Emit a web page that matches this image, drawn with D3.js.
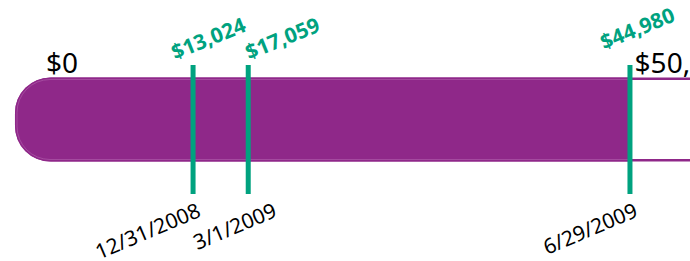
<!DOCTYPE html>
<html><head><meta charset="utf-8">
<script src="https://cdn.jsdelivr.net/npm/d3@7/dist/d3.min.js"></script>
<style>
html,body{margin:0;padding:0;background:#fff;}
svg{display:block;}
</style></head>
<body>
<svg id="chart" width="690" height="261"></svg>
<script>
// ---- data ----
const axisTicks = [0, 50000];
const axisTickLabels = ["$0", "$50,000"];
const currentTotal = 44980;
const milestoneValues = [13024, 17059, 44980];
const milestoneValueLabels = ["$13,024", "$17,059", "$44,980"];
const milestoneDates = ["12/31/2008", "3/1/2009", "6/29/2009"];

// ---- drawing ----
const W = 690, H = 261;
const svg = d3.select("#chart");
const purple = "#8f2889";
const green = "#00a27f";
const font = "'Noto Sans', 'Open Sans', sans-serif";

const barTop = 77.5, barBottom = 161.5, r = 35;
const x = d3.scaleLinear().domain([0, 50000]).range([15, 698.6]);

function leftRounded(x0, x1, y0, y1, rad) {
  return `M${x1},${y0} L${x0 + rad},${y0} A${rad},${rad} 0 0 0 ${x0},${y0 + rad}` +
         ` L${x0},${y1 - rad} A${rad},${rad} 0 0 0 ${x0 + rad},${y1} L${x1},${y1} Z`;
}

// track (unfilled part)
svg.append("path")
  .attr("d", leftRounded(x(0) + 1.2, x(50000) + 20, barTop + 1.2, barBottom - 1.2, r))
  .attr("fill", "#fff").attr("stroke", purple).attr("stroke-width", 2.5);

// filled part
svg.append("path")
  .attr("d", leftRounded(x(0), x(currentTotal), barTop, barBottom, r))
  .attr("fill", purple);
// subtle inner highlight
svg.append("path")
  .attr("d", leftRounded(x(0) + 2, x(currentTotal), barTop + 2, barBottom - 2, r - 2))
  .attr("fill", "none").attr("stroke", "#c98ac6").attr("stroke-width", 0.6).attr("opacity", 0.6);

// axis tick labels
const tickDx = [31, -64];
svg.selectAll("text.tick").data(axisTicks).enter().append("text")
  .attr("class", "tick")
  .attr("x", (d, i) => x(d) + tickDx[i])
  .attr("y", 73)
  .attr("font-family", font).attr("font-size", 28)
  .attr("fill", "#000")
  .text((d, i) => axisTickLabels[i]);

// milestone markers
const ms = milestoneValues.map((v, i) => ({v, label: milestoneValueLabels[i], date: milestoneDates[i]}));
svg.selectAll("line.marker").data(ms).enter().append("line")
  .attr("x1", d => x(d.v)).attr("x2", d => x(d.v))
  .attr("y1", 65).attr("y2", 194)
  .attr("stroke", green).attr("stroke-width", 5);

// label layout with simple de-overlap (push right of previous label)
const lastTickX = x(50000) + tickDx[1];
let prevVal = -Infinity, prevDate = -Infinity;
ms.forEach(d => {
  const px = x(d.v);
  d.lift = Math.abs(px - lastTickX) < 40 ? 10 : 0;
  d.valX = Math.max(px - 18 - (d.lift ? 8 : 0), prevVal + 74);
  d.dateX = Math.max(px + 9, prevDate + 76);
  prevVal = d.valX; prevDate = d.dateX;
});

svg.selectAll("text.val").data(ms).enter().append("text")
  .attr("transform", d => `translate(${d.valX},${60 - d.lift}) rotate(-22)`)
  .attr("font-family", font).attr("font-size", 21).attr("font-weight", "bold")
  .attr("fill", green)
  .text(d => d.label);

svg.selectAll("text.date").data(ms).enter().append("text")
  .attr("transform", d => `translate(${d.dateX},216) rotate(-23)`)
  .attr("text-anchor", "end")
  .attr("font-family", font).attr("font-size", 21)
  .attr("fill", "#000")
  .text(d => d.date);
</script>
</body></html>
